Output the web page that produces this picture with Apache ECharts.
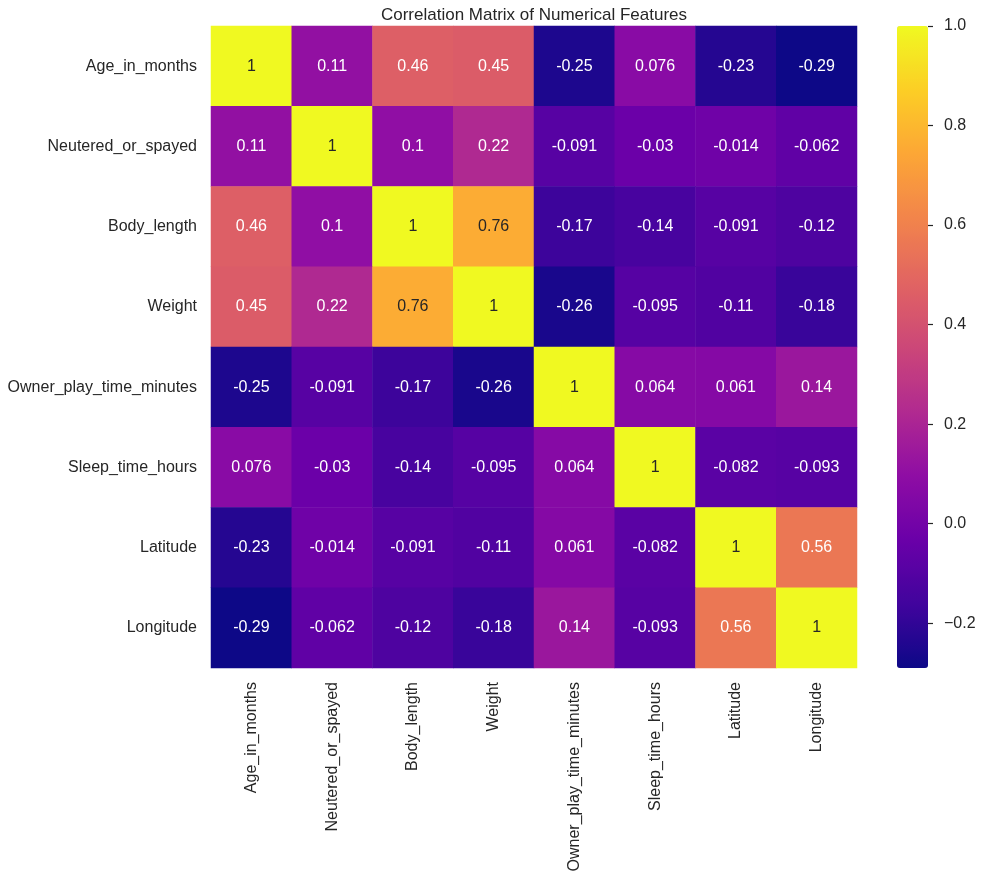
<!DOCTYPE html>
<html>
<head>
<meta charset="utf-8">
<script src="https://cdn.jsdelivr.net/npm/echarts@6/dist/echarts.min.js"></script>
<style>html,body{margin:0;padding:0;background:#fff}#c{width:1000px;height:876px}</style>
</head>
<body>
<div id="c"></div>
<script>
var features = ['Age_in_months','Neutered_or_spayed','Body_length','Weight','Owner_play_time_minutes','Sleep_time_hours','Latitude','Longitude'];
var rowAge      = [1, 0.11, 0.46, 0.45, -0.25, 0.076, -0.23, -0.29];
var rowNeutered = [0.11, 1, 0.1, 0.22, -0.091, -0.03, -0.014, -0.062];
var rowBody     = [0.46, 0.1, 1, 0.76, -0.17, -0.14, -0.091, -0.12];
var rowWeight   = [0.45, 0.22, 0.76, 1, -0.26, -0.095, -0.11, -0.18];
var rowOwner    = [-0.25, -0.091, -0.17, -0.26, 1, 0.064, 0.061, 0.14];
var rowSleep    = [0.076, -0.03, -0.14, -0.095, 0.064, 1, -0.082, -0.093];
var rowLat      = [-0.23, -0.014, -0.091, -0.11, 0.061, -0.082, 1, 0.56];
var rowLong     = [-0.29, -0.062, -0.12, -0.18, 0.14, -0.093, 0.56, 1];
var colorbarTicks = [-0.2, 0, 0.2, 0.4, 0.6, 0.8, 1.0];
var colorMin = -0.29, colorMax = 1.0;

var rows = [rowAge,rowNeutered,rowBody,rowWeight,rowOwner,rowSleep,rowLat,rowLong];
var plasma = ['#0d0887','#41049d','#6a00a8','#8f0da4','#b12a90','#cc4778','#e16462','#f2844b','#fca636','#fcce25','#f0f921'];
var FONT = 'Liberation Sans, Arial, sans-serif';
var TXT = '#262626';

var data = [];
rows.forEach(function(r, yi){
  r.forEach(function(v, xi){
    data.push({value:[xi, yi, v], label:{color: v >= 0.7 ? TXT : '#ffffff'}});
  });
});

var chart = echarts.init(document.getElementById('c'));
chart.setOption({
  animation:false,
  backgroundColor:'#fff',
  title:{text:'Correlation Matrix of Numerical Features', left:529, top:2, textAlign:'center',
    textStyle:{fontFamily:FONT, fontSize:17, fontWeight:'normal', color:TXT}},
  grid:[
    {left:211, top:26, width:646, height:642},
    {left:897, top:26, width:31, height:642, z:10}
  ],
  xAxis:[
    {type:'category', gridIndex:0, data:features, axisLine:{show:false}, axisTick:{show:false}, splitLine:{show:false},
     axisLabel:{rotate:90, margin:14, fontFamily:FONT, fontSize:16, color:TXT, interval:0}},
    {type:'value', gridIndex:1, show:false, min:0, max:1}
  ],
  yAxis:[
    {type:'category', gridIndex:0, data:features, inverse:true, axisLine:{show:false}, axisTick:{show:false}, splitLine:{show:false},
     axisLabel:{margin:14, fontFamily:FONT, fontSize:16, color:TXT, interval:0}},
    {type:'value', gridIndex:1, position:'right', min:colorMin, max:colorMax, z:10,
     axisLine:{show:false, onZero:false}, splitLine:{show:false},
     axisTick:{show:true, length:5, lineStyle:{color:TXT, width:1.2}, customValues:colorbarTicks},
     axisLabel:{margin:16, fontFamily:FONT, fontSize:16, color:TXT, customValues:colorbarTicks,
       formatter:function(v){ var s = Math.abs(v).toFixed(1); return (v < -1e-9 ? '\u2212' : '') + s; }}}
  ],
  visualMap:{
    type:'continuous', min:colorMin, max:colorMax, calculable:false, show:true,
    left:897, top:26, itemWidth:31, itemHeight:642, padding:0, text:null, showLabel:false,
    seriesIndex:0, inRange:{color:plasma}
  },
  series:[{
    type:'heatmap', xAxisIndex:0, yAxisIndex:0, data:data,
    label:{show:true, fontFamily:FONT, fontSize:16, formatter:function(p){ return String(p.value[2]); }},
    itemStyle:{borderWidth:0},
    emphasis:{disabled:true}
  }]
});
</script>
</body>
</html>
